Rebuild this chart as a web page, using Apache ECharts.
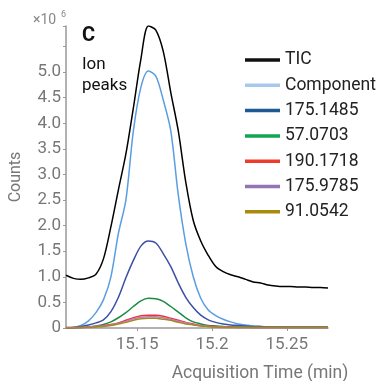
<!DOCTYPE html>
<html>
<head>
<meta charset="utf-8">
<script src="https://cdn.jsdelivr.net/npm/echarts@6/dist/echarts.min.js"></script>
<style>
  html, body { margin: 0; padding: 0; background: #fff; }
  #chart { width: 377px; height: 381px; }
</style>
</head>
<body>
<div id="chart"></div>
<script>
// acquisition time (min)
const times = [15.1025, 15.1075, 15.1125, 15.1175, 15.1225, 15.1275, 15.1325, 15.1375, 15.1425, 15.1475,
  15.1525, 15.1575, 15.1625, 15.1675, 15.1725, 15.1775, 15.1825, 15.1875, 15.1925, 15.1975,
  15.2025, 15.2075, 15.2125, 15.2175, 15.2225, 15.2275, 15.2325, 15.2375, 15.2425, 15.2475,
  15.2525, 15.2575, 15.2625, 15.2675, 15.2725, 15.2775];

// counts in millions
const tic = [1.03, 0.97, 0.95, 0.98, 1.05, 1.35, 1.98, 2.7, 3.4, 4.3,
  5.25, 5.9, 5.82, 5.4, 4.6, 3.85, 2.85, 2.1, 1.7, 1.42,
  1.2, 1.1, 1.04, 1.0, 0.95, 0.9, 0.88, 0.84, 0.82, 0.81,
  0.81, 0.8, 0.8, 0.79, 0.79, 0.78];
const component = [0.0, 0.01, 0.05, 0.14, 0.3, 0.55, 1.0, 1.85, 2.5, 3.85,
  4.7, 5.02, 4.92, 4.45, 3.85, 2.6, 1.65, 1.0, 0.58, 0.35,
  0.24, 0.17, 0.12, 0.08, 0.06, 0.04, 0.03, 0.02, 0.02, 0.02,
  0.01, 0.01, 0.01, 0.01, 0.01, 0.01];
const ion1751485 = [0.0, 0.01, 0.03, 0.06, 0.1, 0.16, 0.32, 0.6, 0.98, 1.32,
  1.6, 1.7, 1.66, 1.45, 1.2, 0.88, 0.6, 0.4, 0.25, 0.16,
  0.11, 0.08, 0.06, 0.05, 0.04, 0.03, 0.03, 0.02, 0.02, 0.02,
  0.02, 0.02, 0.02, 0.02, 0.02, 0.02];
const ion570703 = [0.0, 0.005, 0.01, 0.02, 0.04, 0.07, 0.12, 0.2, 0.3, 0.42,
  0.53, 0.58, 0.57, 0.52, 0.42, 0.31, 0.2, 0.12, 0.08, 0.05,
  0.04, 0.03, 0.02, 0.02, 0.02, 0.01, 0.01, 0.01, 0.01, 0.01,
  0.01, 0.01, 0.01, 0.01, 0.01, 0.01];
const ion1901718 = [0.01, 0.01, 0.01, 0.02, 0.03, 0.05, 0.07, 0.1, 0.15, 0.2,
  0.24, 0.25, 0.25, 0.23, 0.19, 0.15, 0.11, 0.08, 0.05, 0.04,
  0.03, 0.02, 0.02, 0.01, 0.01, 0.01, 0.01, 0.01, 0.01, 0.01,
  0.01, 0.01, 0.01, 0.01, 0.01, 0.01];
const ion1759785 = [0.01, 0.01, 0.01, 0.02, 0.03, 0.04, 0.06, 0.09, 0.13, 0.18,
  0.21, 0.22, 0.22, 0.2, 0.17, 0.13, 0.1, 0.07, 0.05, 0.03,
  0.02, 0.02, 0.01, 0.01, 0.01, 0.01, 0.01, 0.01, 0.01, 0.01,
  0.01, 0.01, 0.01, 0.01, 0.01, 0.01];
const ion910542 = [0.0, 0.0, 0.01, 0.01, 0.02, 0.03, 0.05, 0.08, 0.11, 0.15,
  0.18, 0.19, 0.19, 0.17, 0.15, 0.11, 0.08, 0.06, 0.04, 0.03,
  0.02, 0.01, 0.01, 0.01, 0.01, 0.01, 0.01, 0.01, 0.01, 0.01,
  0.01, 0.01, 0.01, 0.01, 0.01, 0.01];

const seriesNames = ['TIC', 'Component', '175.1485', '57.0703', '190.1718', '175.9785', '91.0542'];
const seriesValues = [tic, component, ion1751485, ion570703, ion1901718, ion1759785, ion910542];
const lineColors = ['#000000', '#5a9ee0', '#3b50a6', '#1a8c44', '#e8343a', '#c37ac0', '#a08a22'];
const legendColors = ['#111111', '#a9c9ec', '#1d5a94', '#12a650', '#ee3b2b', '#9474b4', '#a88a0c'];
const xTicks = [15.15, 15.2, 15.25];

const font = "Roboto, sans-serif";

const myChart = echarts.init(document.getElementById('chart'));
myChart.setOption({
  animation: false,
  grid: {left: 66, top: 26, right: 49, bottom: 53, outerBoundsMode: 'none'},
  legend: {
    orient: 'vertical',
    left: 240,
    top: 45,
    icon: 'rect',
    itemWidth: 35,
    itemHeight: 3.5,
    itemGap: 5.3,
    textStyle: {fontSize: 17.5, color: '#222', fontFamily: font, lineHeight: 20},
    data: seriesNames.map((n, i) => ({name: n, itemStyle: {color: legendColors[i]}}))
  },
  graphic: [
    {type: 'text', left: 82, top: 26, style: {text: 'C', fontSize: 20, fontWeight: 'bold', fill: '#111', fontFamily: font}},
    {type: 'text', left: 82, top: 54, style: {text: 'Ion\npeaks', fontSize: 17, lineHeight: 21, fill: '#111', fontFamily: font}},
    {type: 'text', left: 33, top: 13, style: {text: '×10', fontSize: 14, fill: '#888', fontFamily: font}},
    {type: 'text', left: 61, top: 10, style: {text: '6', fontSize: 9, fill: '#888', fontFamily: font}}
  ],
  xAxis: {
    type: 'value',
    min: 15.1025,
    max: 15.2775,
    name: 'Acquisition Time (min)',
    nameLocation: 'middle',
    nameGap: 37,
    nameTextStyle: {fontSize: 17.5, color: '#777', fontFamily: font, padding: [0, 0, 0, 126]},
    axisLine: {lineStyle: {color: '#999', width: 1.5}},
    axisTick: {customValues: xTicks, length: 3, lineStyle: {color: '#999'}},
    axisLabel: {customValues: xTicks, fontSize: 17, color: '#777', margin: 8, fontFamily: font},
    splitLine: {show: false}
  },
  yAxis: {
    type: 'value',
    min: 0,
    max: 5.9,
    interval: 0.5,
    name: 'Counts',
    nameLocation: 'middle',
    nameGap: 42,
    nameTextStyle: {fontSize: 16, color: '#777', fontFamily: font},
    axisLine: {show: true, lineStyle: {color: '#999', width: 1.5}},
    axisTick: {show: true, length: 3, lineStyle: {color: '#999'}},
    axisLabel: {
      fontSize: 17, color: '#777', margin: 5, fontFamily: font,
      formatter: v => v === 0 ? '0' : (v > 5.2 ? '' : v.toFixed(1))
    },
    splitLine: {show: false}
  },
  series: seriesNames.map((n, i) => ({
    name: n,
    type: 'line',
    symbol: 'none',
    smooth: 0.3,
    color: lineColors[i],
    lineStyle: {width: 1.5},
    data: times.map((t, j) => [t, seriesValues[i][j]])
  }))
});
</script>
</body>
</html>
